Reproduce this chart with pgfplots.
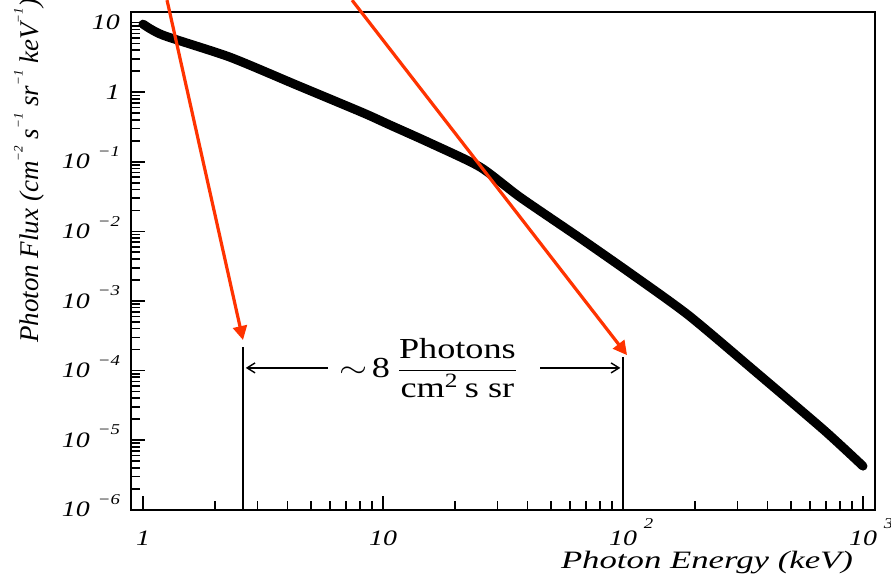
\documentclass[border=0pt]{standalone}
\usepackage{fontspec}
\setmainfont{Liberation Serif}
\usepackage{graphicx}
\usepackage{pgfplots}
\pgfplotsset{compat=1.18}
\usetikzlibrary{arrows.meta}
\definecolor{redarrow}{HTML}{FF3300}
\newcommand{\tn}[1]{\scalebox{1.27}[1]{\fontsize{11}{11}\selectfont\textit{#1}}}
\newcommand{\te}[1]{\scalebox{1.25}[1]{\fontsize{7.5}{7.5}\selectfont\textit{#1}}}
\newcommand{\ylab}[1]{\tn{10}\hspace{4pt}\smash{\raisebox{6.2pt}{\te{#1}}}}
\newcommand{\xlab}[1]{\tn{10}\rlap{\hspace{3.5pt}\smash{\raisebox{8.7pt}{\te{#1}}}}}
\newcommand{\yx}[1]{\raisebox{8pt}{\fontsize{6.5}{6.5}\selectfont\textit{#1}}}
\begin{document}
\begin{tikzpicture}
\useasboundingbox (-65.5pt,-33pt) rectangle (380pt,255pt);
\begin{axis}[
  at={(0,0)}, anchor=south west,
  scale only axis, width=372pt, height=249pt,
  xmode=log, ymode=log,
  xmin=0.891, xmax=1122, ymin=0.99e-6, ymax=14.2,
  axis line style={line width=1pt},
  tick style={black, line width=0.8pt},
  tick align=inside,
  xtick pos=bottom, ytick pos=left,
  major tick length=7pt, minor tick length=4.5pt,
  xtick={1,10,100,1000},
  xticklabels={\tn{1}, \tn{10}, \xlab{2}, \xlab{3}},
  minor xtick={2,3,4,5,6,7,8,9,20,30,40,50,60,70,80,90,200,300,400,500,600,700,800,900},
  ytick={1e-6,1e-5,1e-4,1e-3,1e-2,1e-1,1,10},
  yticklabels={\ylab{−6},\ylab{−5},\ylab{−4},\ylab{−3},\ylab{−2},\ylab{−1},\tn{1}\hspace{12pt},\tn{10}\hspace{12pt}},
  minor ytick={2e-6,3e-6,4e-6,5e-6,6e-6,7e-6,8e-6,9e-6,
               2e-5,3e-5,4e-5,5e-5,6e-5,7e-5,8e-5,9e-5,
               2e-4,3e-4,4e-4,5e-4,6e-4,7e-4,8e-4,9e-4,
               2e-3,3e-3,4e-3,5e-3,6e-3,7e-3,8e-3,9e-3,
               2e-2,3e-2,4e-2,5e-2,6e-2,7e-2,8e-2,9e-2,
               0.2,0.3,0.4,0.5,0.6,0.7,0.8,0.9,2,3,4,5,6,7,8,9},
  xticklabel style={anchor=north, yshift=-7pt},
  yticklabel style={anchor=east, xshift=-2pt},
  xlabel={\scalebox{1.39}[1]{\fontsize{12.5}{12.5}\selectfont\textit{Photon Energy (keV)}}},
  xlabel style={at={(axis description cs:0.980,-0.1064)}, anchor=east},
  ylabel={\fontsize{13.5}{13.5}\selectfont\textit{Photon Flux (cm\yx{−2} s\yx{−1} sr\yx{−1} keV\yx{−1})}},
  ylabel style={at={(axis description cs:-0.137,0.681)}, anchor=center},
  clip=false,
]
% spectrum
\addplot[black, line width=4.5pt, line join=round, line cap=round, smooth, tension=0.4] coordinates {
 (1,9.5) (1.21,6.6) (2.30,3.19) (4.38,1.26) (8.26,0.505) (10.7,0.337)
 (15.7,0.186) (25.4,0.0839) (37.2,0.0311) (66.2,0.00801) (107,0.00252)
 (187,6.27e-4) (358,9.5e-5) (688,1.39e-5) (1000,4.23e-6)
};
% vertical limit lines
\addplot[black, line width=1pt] coordinates {(2.61,0.99e-6) (2.61,2.18e-4)};
\addplot[black, line width=1pt] coordinates {(100,0.99e-6) (100,1.56e-4)};
% horizontal arrows
\addplot[black, line width=0.7pt, -{Straight Barb[length=4pt,width=5pt]}] coordinates {(5.90,1.09e-4) (2.68,1.09e-4)};
\addplot[black, line width=0.7pt, -{Straight Barb[length=4pt,width=5pt]}] coordinates {(45.1,1.09e-4) (97.5,1.09e-4)};
\node[inner sep=0pt] at (axis cs:15.6,1.09e-4) {\scalebox{1.25}[1]{\fontsize{14.5}{14.5}\selectfont $\displaystyle\sim\!\mbox{8}\,\frac{\mbox{Photons}}{\mbox{cm\textsuperscript{2}\,s sr}}$}};
% red annotation arrows
\addplot[redarrow, line width=1.6pt, -{Triangle[length=7pt,width=7pt]}] coordinates {(1.259,21.0) (2.61,2.74e-4)};
\addplot[redarrow, line width=1.6pt, -{Triangle[length=7pt,width=7pt]}] coordinates {(7.43,21.0) (104,1.66e-4)};
\end{axis}
\end{tikzpicture}
\end{document}
